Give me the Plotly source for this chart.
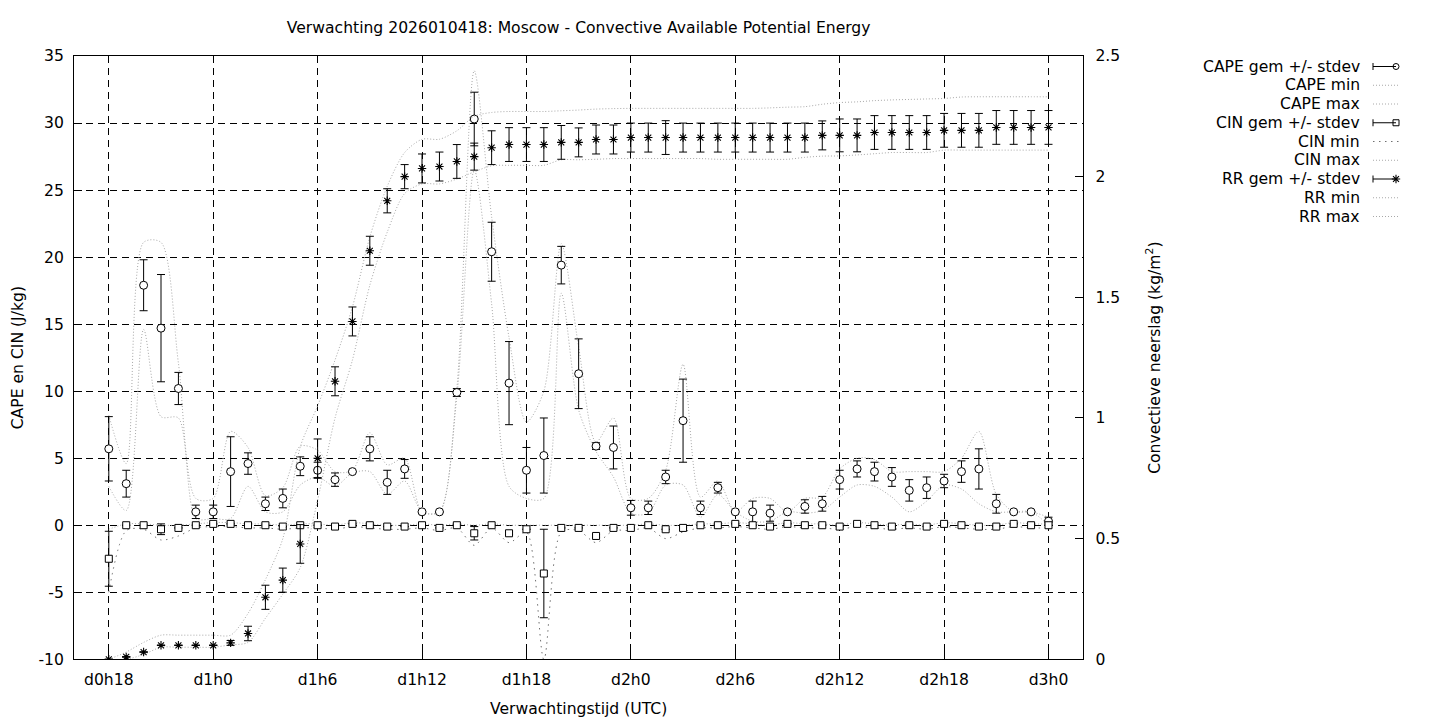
import plotly.graph_objects as go

# ---------------- data ----------------
hours = [18, 19, 20, 21, 22, 23, 24, 25, 26, 27, 28, 29, 30, 31, 32, 33, 34, 35, 36,
         37, 38, 39, 40, 41, 42, 43, 44, 45, 46, 47, 48, 49, 50, 51, 52, 53, 54, 55,
         56, 57, 58, 59, 60, 61, 62, 63, 64, 65, 66, 67, 68, 69, 70, 71, 72]

tick_vals = [18, 24, 30, 36, 42, 48, 54, 60, 66, 72]
tick_text = ["d0h18", "d1h0", "d1h6", "d1h12", "d1h18", "d2h0", "d2h6", "d2h12", "d2h18", "d3h0"]

y_tick_vals = [-10, -5, 0, 5, 10, 15, 20, 25, 30, 35]
y_tick_text = ["-10", "-5", "0", "5", "10", "15", "20", "25", "30", "35"]

cape_mean = [5.7, 3.1, 17.9, 14.7, 10.2, 1.0, 1.0, 4.0, 4.6, 1.6, 2.0, 4.4, 4.1, 3.4, 4.0, 5.7, 3.2, 4.2, 1.0,
             1.0, 9.9, 30.3, 20.4, 10.6, 4.1, 5.2, 19.4, 11.3, 5.9, 5.8, 1.3, 1.3, 3.6, 7.8, 1.3, 2.8, 1.0, 1.0,
             0.9, 1.0, 1.4, 1.6, 3.4, 4.2, 4.0, 3.6, 2.6, 2.8, 3.3, 4.0, 4.2, 1.6, 1.0, 1.0, 0.3]
cape_std = [2.4, 1.0, 1.9, 4.0, 1.2, 0.5, 0.5, 2.6, 0.8, 0.5, 0.7, 0.7, 0.6, 0.5, 0.0, 0.9, 0.9, 0.7, 0.0,
            0.0, 0.3, 2.0, 2.2, 3.1, 1.7, 2.8, 1.4, 2.6, 0.25, 1.6, 0.55, 0.5, 0.5, 3.1, 0.5, 0.4, 0.0, 0.8,
            0.6, 0.0, 0.5, 0.55, 0.7, 0.6, 0.7, 0.7, 0.8, 0.8, 0.5, 0.8, 1.5, 0.7, 0.0, 0.0, 0.3]
cape_min = [2.9, 1.1, 14.6, 8.1, 8.0, 0.5, 0.5, 0.5, 2.9, 1.0, 1.0, 3.0, 3.6, 2.9, 3.9, 4.0, 2.3, 3.3, 1.0,
            1.0, 9.6, 26.5, 16.5, 2.9, 2.0, 2.0, 17.3, 8.6, 5.5, 3.6, 0.9, 0.9, 3.0, 3.0, 0.6, 2.3, 1.0, 0.3,
            0.3, 1.0, 0.9, 1.1, 2.1, 3.0, 2.9, 2.1, 1.0, 1.8, 3.0, 2.7, 1.6, 1.0, 1.0, 1.0, 0.0]
cape_max = [8.2, 4.6, 21.1, 21.1, 12.1, 2.0, 2.0, 7.0, 5.8, 2.2, 2.8, 5.9, 5.6, 4.0, 4.1, 6.9, 4.5, 5.0, 1.0,
            1.0, 10.2, 33.9, 23.0, 14.0, 7.7, 10.0, 21.0, 13.3, 6.2, 8.0, 2.0, 2.0, 4.1, 12.0, 2.1, 3.3, 1.0, 2.0,
            2.0, 1.0, 2.0, 2.1, 4.2, 5.0, 4.9, 4.0, 4.0, 4.0, 4.0, 5.0, 7.0, 2.3, 1.0, 1.0, 0.6]

cin_mean = [-2.5, 0.0, 0.0, -0.3, -0.2, 0.0, 0.1, 0.1, 0.0, 0.0, -0.1, 0.0, 0.0, -0.1, 0.1, 0.0, -0.1, -0.1, 0.0,
            -0.2, 0.0, -0.6, 0.0, -0.6, -0.3, -3.6, -0.2, -0.2, -0.8, -0.2, -0.2, 0.0, -0.3, -0.2, 0.0, 0.0, 0.1, 0.0,
            -0.1, 0.1, 0.0, 0.0, -0.1, 0.1, 0.0, -0.1, 0.0, -0.1, 0.1, 0.0, -0.1, -0.1, 0.1, 0.0, 0.0]
cin_std = [2.05, 0.0, 0.0, 0.4, 0.0, 0.0, 0.0, 0.0, 0.0, 0.0, 0.0, 0.0, 0.0, 0.0, 0.0, 0.0, 0.0, 0.0, 0.0,
           0.0, 0.0, 0.5, 0.0, 0.1, 0.0, 3.3, 0.0, 0.0, 0.1, 0.0, 0.0, 0.0, 0.0, 0.0, 0.0, 0.0, 0.0, 0.0,
           0.0, 0.0, 0.0, 0.0, 0.0, 0.0, 0.0, 0.0, 0.0, 0.0, 0.0, 0.0, 0.0, 0.0, 0.0, 0.0, 0.0]
cin_min = [-5.0, -0.4, -0.3, -1.1, -0.8, -0.2, -0.1, -0.1, -0.2, -0.2, -0.3, -0.2, -0.2, -0.3, -0.1, -0.2, -0.3, -0.3, -0.2,
           -0.4, -0.2, -1.5, -0.2, -1.3, -0.5, -10.0, -0.5, -0.4, -1.3, -0.4, -0.4, -0.2, -1.0, -0.5, -0.2, -0.2, -0.1, -0.2,
           -0.3, -0.1, -0.2, -0.2, -0.3, -0.1, -0.2, -0.3, -0.2, -0.3, -0.1, -0.2, -0.3, -0.3, -0.1, -0.2, -0.2]
cin_max = [-0.3, 0.1, 0.1, 0.0, 0.0, 0.1, 0.2, 0.2, 0.1, 0.1, 0.0, 0.1, 0.1, 0.0, 0.2, 0.1, 0.0, 0.0, 0.1,
           0.0, 0.1, 0.0, 0.1, 0.0, 0.0, 0.0, 0.0, 0.0, 0.0, 0.0, 0.0, 0.1, 0.0, 0.0, 0.1, 0.1, 0.2, 0.1,
           0.0, 0.2, 0.1, 0.1, 0.0, 0.2, 0.1, 0.0, 0.1, 0.0, 0.2, 0.1, 0.0, 0.0, 0.2, 0.1, 0.1]

rr_mean = [0.0, 0.01, 0.03, 0.058, 0.058, 0.058, 0.058, 0.068, 0.107, 0.257, 0.328, 0.478, 0.833, 1.152, 1.40, 1.693,
           1.90, 2.00, 2.034, 2.042, 2.063, 2.083, 2.12, 2.133, 2.133, 2.133, 2.142, 2.142, 2.154, 2.154, 2.162, 2.162,
           2.162, 2.162, 2.162, 2.162, 2.162, 2.162, 2.162, 2.162, 2.162, 2.171, 2.171, 2.171, 2.183, 2.183, 2.183,
           2.183, 2.192, 2.192, 2.192, 2.204, 2.204, 2.204, 2.204]
rr_std = [0.0, 0.0, 0.0, 0.0, 0.0, 0.0, 0.0, 0.01, 0.03, 0.05, 0.05, 0.08, 0.08, 0.06, 0.06, 0.06,
          0.05, 0.05, 0.06, 0.06, 0.07, 0.056, 0.07, 0.07, 0.07, 0.07, 0.07, 0.06, 0.06, 0.06, 0.06, 0.06,
          0.07, 0.06, 0.06, 0.06, 0.06, 0.06, 0.06, 0.06, 0.06, 0.06, 0.068, 0.068, 0.07, 0.07, 0.07,
          0.07, 0.07, 0.07, 0.07, 0.07, 0.07, 0.07, 0.07]
rr_min = [0.0, 0.0, 0.02, 0.05, 0.05, 0.05, 0.05, 0.06, 0.07, 0.17, 0.27, 0.38, 0.66, 1.0, 1.24, 1.55,
          1.77, 1.93, 1.97, 1.97, 1.99, 2.02, 2.045, 2.047, 2.047, 2.047, 2.07, 2.07, 2.072, 2.075, 2.075, 2.075,
          2.075, 2.075, 2.075, 2.072, 2.072, 2.072, 2.072, 2.072, 2.08, 2.085, 2.086, 2.09, 2.095, 2.10, 2.10,
          2.10, 2.11, 2.11, 2.11, 2.11, 2.11, 2.11, 2.11]
rr_max = [0.0, 0.03, 0.07, 0.10, 0.10, 0.10, 0.10, 0.10, 0.19, 0.33, 0.50, 0.88, 1.05, 1.24, 1.46, 1.75,
          1.96, 2.10, 2.155, 2.155, 2.19, 2.25, 2.266, 2.27, 2.27, 2.27, 2.273, 2.276, 2.28, 2.282, 2.283, 2.283,
          2.283, 2.283, 2.283, 2.283, 2.283, 2.283, 2.285, 2.288, 2.29, 2.30, 2.307, 2.31, 2.315, 2.318, 2.32,
          2.322, 2.324, 2.33, 2.331, 2.331, 2.331, 2.331, 2.331]

legend_labels = ["CAPE gem +/- stdev", "CAPE min", "CAPE max",
                 "CIN gem +/- stdev", "CIN min", "CIN max",
                 "RR gem +/- stdev", "RR min", "RR max"]

# ---------------- styles ----------------
FONT = "DejaVu Sans"
FS = 15.6
W, H = 1440, 720
PX_L, PX_R, PX_T, PX_B = 74, 1083.3, 56, 659.3
LIGHT = "#a8a8a8"
DOT = "1px,2px"
CIN_MIN_COLOR = "#707070"
CIN_MIN_DASH = "1.5px,4.5px"

fig = go.Figure()


def minmax_line(x, y, name, color, dash, yaxis="y"):
    fig.add_trace(go.Scatter(x=x, y=y, name=name, mode="lines", yaxis=yaxis,
                             line=dict(color=color, width=1, dash=dash, shape="spline", smoothing=0.8),
                             showlegend=False, hoverinfo="skip"))


def mean_points(x, y, err, name, symbol, size, yaxis="y"):
    fig.add_trace(go.Scatter(x=x, y=y, name=name, mode="markers", yaxis=yaxis,
                             marker=dict(symbol=symbol, size=size, color="white",
                                         line=dict(color="black", width=1)),
                             error_y=dict(type="data", array=err, visible=True,
                                          color="black", thickness=1, width=4),
                             showlegend=False))


# CAPE
minmax_line(hours, cape_min, "CAPE min", LIGHT, DOT)
minmax_line(hours, cape_max, "CAPE max", LIGHT, DOT)
# CIN
minmax_line(hours, cin_min, "CIN min", CIN_MIN_COLOR, CIN_MIN_DASH)
minmax_line(hours, cin_max, "CIN max", LIGHT, DOT)
# RR
minmax_line(hours, rr_min, "RR min", LIGHT, DOT, yaxis="y2")
minmax_line(hours, rr_max, "RR max", LIGHT, DOT, yaxis="y2")

mean_points(hours, cape_mean, cape_std, "CAPE gem +/- stdev", "circle", 8)
mean_points(hours, cin_mean, cin_std, "CIN gem +/- stdev", "square", 7)
fig.add_trace(go.Scatter(x=hours, y=rr_mean, name="RR gem +/- stdev", mode="markers", yaxis="y2",
                         marker=dict(symbol="asterisk-open", size=7, color="black",
                                     line=dict(color="black", width=1.1)),
                         error_y=dict(type="data", array=rr_std, visible=True,
                                      color="black", thickness=1, width=4),
                         showlegend=False))

# ---------------- custom legend (gnuplot style: text left, sample right) ----------------
row0, row_step = 66.5, 18.75
txt_right = 1362
s0, s1 = 1373, 1400
shapes = []
annotations = []
for i, lab in enumerate(legend_labels):
    ry = row0 + i * row_step
    annotations.append(dict(x=txt_right, y=ry, xref="x3", yref="y3", text=lab, showarrow=False,
                            xanchor="right", yanchor="middle", font=dict(family=FONT, size=FS, color="black")))
    if i in (0, 3, 6):
        shapes.append(dict(type="line", xref="x3", yref="y3", x0=s0, x1=s1 - 4, y0=ry, y1=ry,
                           line=dict(color="black", width=1)))
        shapes.append(dict(type="line", xref="x3", yref="y3", x0=s0, x1=s0, y0=ry - 3.5, y1=ry + 3.5,
                           line=dict(color="black", width=1)))
    else:
        col = CIN_MIN_COLOR if i == 4 else LIGHT
        dsh = CIN_MIN_DASH if i == 4 else DOT
        shapes.append(dict(type="line", xref="x3", yref="y3", x0=s0, x1=s1, y0=ry, y1=ry,
                           line=dict(color=col, width=1, dash=dsh)))

leg_rows = [row0, row0 + 3 * row_step, row0 + 6 * row_step]
fig.add_trace(go.Scatter(x=[s1 - 4], y=[leg_rows[0]], xaxis="x3", yaxis="y3", mode="markers",
                         marker=dict(symbol="circle", size=6, color="white", line=dict(color="black", width=1)),
                         showlegend=False, hoverinfo="skip"))
fig.add_trace(go.Scatter(x=[s1 - 4], y=[leg_rows[1]], xaxis="x3", yaxis="y3", mode="markers",
                         marker=dict(symbol="square", size=6, color="white", line=dict(color="black", width=1)),
                         showlegend=False, hoverinfo="skip"))
fig.add_trace(go.Scatter(x=[s1 - 4], y=[leg_rows[2]], xaxis="x3", yaxis="y3", mode="markers",
                         marker=dict(symbol="asterisk-open", size=7, color="black", line=dict(color="black", width=1.1)),
                         showlegend=False, hoverinfo="skip"))

axis_common = dict(showline=True, linecolor="black", linewidth=1, ticks="inside", ticklen=8,
                   tickcolor="black", tickfont=dict(family=FONT, size=FS, color="black"),
                   zeroline=False)

fig.update_layout(
    width=W, height=H,
    margin=dict(l=0, r=0, t=0, b=0),
    paper_bgcolor="white", plot_bgcolor="white",
    font=dict(family=FONT, size=FS, color="black"),
    title=dict(text="Verwachting 2026010418: Moscow - Convective Available Potential Energy",
               x=(PX_L + PX_R) / 2 / W, xref="container", xanchor="center",
               y=1 - 28 / H, yref="container", yanchor="middle",
               font=dict(family=FONT, size=FS, color="black")),
    xaxis=dict(domain=[PX_L / W, PX_R / W], range=[16, 74], tickvals=tick_vals, ticktext=tick_text,
               mirror=True, showgrid=True, gridcolor="black", gridwidth=1, griddash="7px,5px",
               ticklabelstandoff=6,
               title=dict(text="Verwachtingstijd (UTC)", standoff=15, font=dict(family=FONT, size=FS)),
               automargin=False, **axis_common),
    yaxis=dict(domain=[1 - PX_B / H, 1 - PX_T / H], range=[-10, 35], tickvals=y_tick_vals,
               ticktext=y_tick_text, mirror=True, showgrid=True, gridcolor="black", gridwidth=1,
               griddash="7px,5px", ticklabelstandoff=6,
               title=dict(text="CAPE en CIN (J/kg)", standoff=10, font=dict(family=FONT, size=FS)),
               automargin=False, **axis_common),
    yaxis2=dict(overlaying="y", side="right", anchor="x", range=[0, 2.5], dtick=0.5, showgrid=False,
                ticklabelstandoff=8,
                title=dict(text="Convectieve neerslag (kg/m<sup>2</sup>)", standoff=29,
                           font=dict(family=FONT, size=FS)),
                automargin=False, **axis_common),
    xaxis3=dict(domain=[1180 / W, 1.0], range=[1180, 1440], visible=False, anchor="y3", fixedrange=True),
    yaxis3=dict(domain=[0.0, 1.0], range=[720, 0], visible=False, anchor="x3", fixedrange=True),
    shapes=shapes,
    annotations=annotations,
    showlegend=False,
)

fig.write_html("out.html", config={"displayModeBar": False},
               post_script="document.body.style.margin='0';document.body.style.overflow='hidden';")
